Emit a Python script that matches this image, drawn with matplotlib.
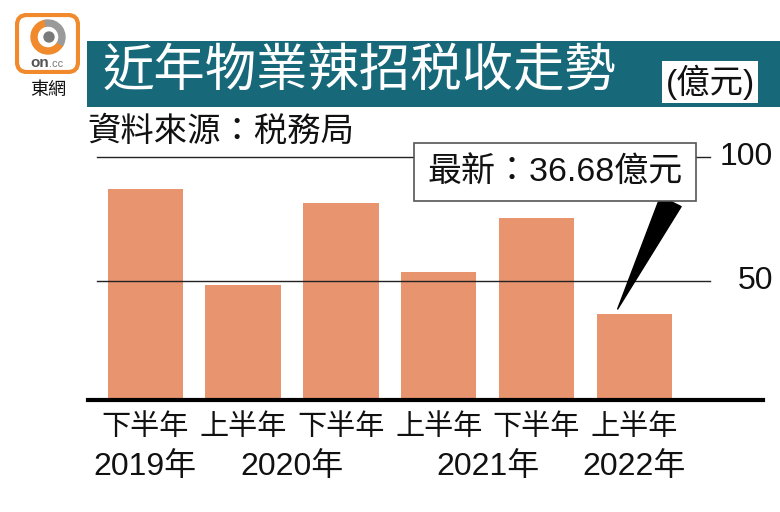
import matplotlib
matplotlib.use("Agg")
import matplotlib.pyplot as plt
import matplotlib.transforms as mtransforms
from matplotlib.patches import Rectangle, FancyBboxPatch, Wedge, Circle

plt.rcParams['font.family'] = ['Liberation Sans', 'Noto Sans CJK TC', 'DejaVu Sans']

# Property cooling-measure stamp duty, HK$100m per half year
halves = ['下半年', '上半年', '下半年', '上半年', '下半年', '上半年']
years = ['2019年', '2020年', '2021年', '2022年']
year_pos = [0, 1.5, 3.5, 5]          # where each year label sits under the bars
values = [87.1, 48.5, 81.4, 53.7, 75.5, 36.68]
grid_vals = [50, 100]
latest_label = '最新：36.68億元'

bar_color = '#e8946f'
teal = '#17697a'
orange = '#f08a2c'

fig = plt.figure(figsize=(7.8, 5.12), dpi=100)
ax = fig.add_axes([0.1128, 0.2188, 0.8654, 0.498])

x = list(range(len(values)))
ax.bar(x, values, width=0.77, color=bar_color, zorder=1)
ax.set_xlim(-0.586, 6.316)
ax.set_ylim(1.9, 105)

for sp in ['top', 'left', 'right']:
    ax.spines[sp].set_visible(False)
ax.spines['bottom'].set_linewidth(3)
ax.spines['bottom'].set_zorder(4)
ax.set_xticks([])
ax.set_yticks([])

# thin reference lines with labels on the right
ytrans = mtransforms.blended_transform_factory(ax.transAxes, ax.transData)
for g in grid_vals:
    ax.axhline(g, xmin=0.0133, xmax=0.9215, color='#222222', lw=1, zorder=3)
    ax.text(1.015, g, str(g), transform=ytrans, ha='right', va='center',
            fontsize=23, color='#111111', clip_on=False)

# two-line category labels
xtrans = mtransforms.blended_transform_factory(ax.transData, ax.transAxes)
for xi, h in zip(x, halves):
    ax.text(xi, -0.106, h, transform=xtrans, ha='center', va='center',
            fontsize=21, color='#111111')
for xp, yr in zip(year_pos, years):
    ax.text(xp, -0.263, yr, transform=xtrans, ha='center', va='center',
            fontsize=23, color='#111111')

# callout for the latest value
ax.annotate(latest_label, xy=(x[-1] - 0.17, values[-1] + 2),
            xytext=(0.7115, 0.664), textcoords='figure fraction',
            ha='center', va='center', fontsize=24.5, color='#111111',
            bbox=dict(boxstyle='square,pad=0.38', fc='white', ec='#555555', lw=1.2),
            arrowprops=dict(arrowstyle='wedge,tail_width=0.72,shrink_factor=0.5',
                            fc='black', ec='black', relpos=(0.98, 0.0),
                            shrinkA=0, shrinkB=0, mutation_scale=23),
            annotation_clip=False, zorder=6)

# title banner
fig.patches.append(Rectangle((0.1115, 0.791), 0.8885, 0.129, transform=fig.transFigure,
                             fc=teal, ec='none', zorder=0))
fig.text(0.132, 0.857, '近年物業辣招税收走勢', color='white', fontsize=37,
         ha='left', va='center')
fig.text(0.9103, 0.839, '(億元)', color='#111111', fontsize=24, ha='center', va='center',
         bbox=dict(boxstyle='square,pad=0.1', fc='white', ec='none'))
fig.text(0.1115, 0.742, '資料來源：税務局', color='#111111', fontsize=24,
         ha='left', va='center')

# logo
lax = fig.add_axes([15 / 780, 1 - 74 / 512, 65 / 780, 61 / 512])
lax.set_xlim(0, 65)
lax.set_ylim(0, 61)
lax.axis('off')
lax.add_patch(FancyBboxPatch((2, 2), 61, 57, boxstyle='round,pad=0,rounding_size=10',
                             fc='white', ec=orange, lw=3))
lax.add_patch(Wedge((33, 37), 17, 100, 330, width=6, color=orange))
lax.add_patch(Wedge((33, 37), 17, -30, 100, width=6, color='#9a9a9a'))
lax.add_patch(Circle((34, 37), 5, color='#7a7a7a'))
lax.text(34, 11, 'on', fontsize=11, fontweight='bold', color='#555555', ha='right', va='center')
lax.text(34, 10, '.cc', fontsize=8, color='#777777', ha='left', va='center')
fig.text(48 / 780, 1 - 90 / 512, '東網', fontsize=13, color='#111111', ha='center', va='center')

fig.savefig('out.png', dpi=100)
